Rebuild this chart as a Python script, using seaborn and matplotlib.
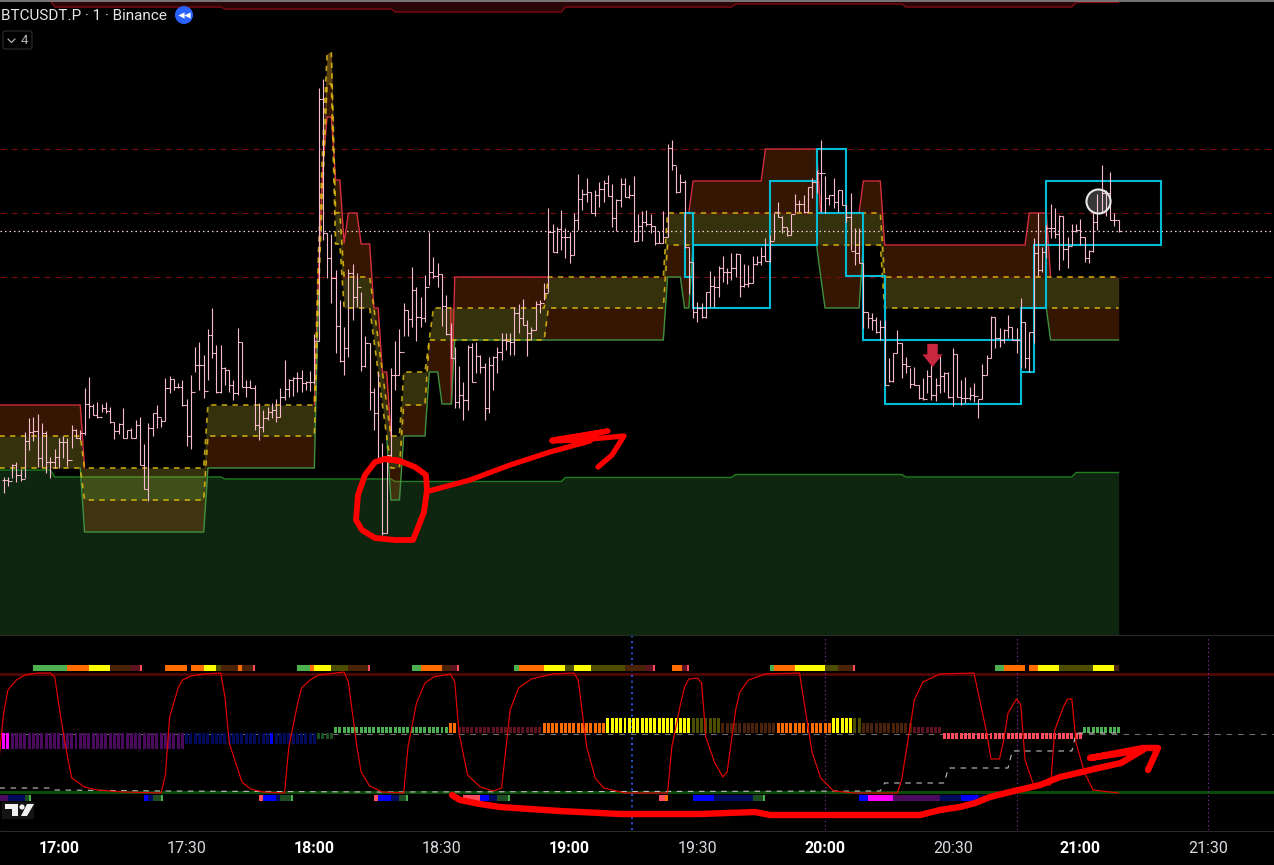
import numpy as np
import pandas as pd
import matplotlib
matplotlib.use('Agg')
import matplotlib.pyplot as plt
import seaborn as sns
from matplotlib.patches import Rectangle, FancyBboxPatch, Polygon, Circle

# =-=-=-=-=-=-=-=-=-=-=-=-=-=-=-=-=-=-=-=-=-=-=-=-=-=-=-=-=-
# Bars: one per minute, minutes counted from 17:00, first bar at -13
# Price scale has no labels in the picture so values are chart heights
#
bar_high = [477,477,464,462,469,432,418,417,414,423,431,457,449,438,436,438,425,429,430,388,377,404,402,404,402,407,422,423,408,430,428,420,417,444,423,413,405,418,378,376,379,383,380,399,375,
            347,342,355,329,308,345,345,367,370,380,328,342,380,380,385,403,410,407,403,399,388,360,379,377,372,
            370,381,371,334,88,79,233,234,270,300,327,269,264,273,292,336,343,388,372,443,455,368,
            341,329,303,310,267,287,297,275,232,257,263,274,295,323,347,366,382,345,343,342,355,363,357,356,347,333,333,333,307,304,
            299,320,327,301,300,283,208,224,227,210,228,232,213,174,189,178,192,190,182,180,175,184,199,178,178,185,176,214,211,210,
            214,226,231,211,144,140,166,174,180,247,262,302,303,292,
            271,276,266,256,268,253,253,254,264,265,256,256,247,238,235,213,202,216,227,214,
            194,200,195,187,178,170,140,176,195,178,190,190,205,193,228,228,263,312,313,317,
            320,320,358,353,330,343,357,368,367,385,378,370,365,378,356,372,372,348,354,380,
            377,387,383,399,364,355,316,317,328,329,315,327,328,298,322,332,238,213,247,225,
            204,208,215,216,237,224,224,219,237,250,213,194,165,190,172,213,220]
bar_low = [493,486,478,482,481,478,450,441,467,467,473,478,468,468,458,466,448,438,440,435,418,415,418,412,413,423,439,434,438,438,438,438,465,489,501,436,428,427,421,393,390,388,406,446,449,
           372,390,398,380,358,393,393,385,392,400,395,387,397,388,430,440,432,420,418,422,417,400,397,396,392,
           392,390,391,384,341,240,278,303,353,362,375,357,320,307,371,367,410,430,462,535,533,457,
           390,375,336,336,327,341,327,322,285,278,287,326,335,358,408,408,420,410,382,373,373,420,413,390,373,360,350,355,355,333,
           325,356,340,330,313,300,292,252,253,250,258,263,255,230,210,202,213,216,207,202,196,227,231,207,197,198,242,241,241,226,
           233,245,243,243,237,170,193,192,248,294,318,322,318,318,
           307,307,297,282,284,280,277,297,287,287,283,265,265,261,262,240,217,233,236,235,
           213,212,213,212,198,193,212,213,205,208,212,205,222,250,265,263,328,328,330,333,
           340,385,382,382,353,378,373,388,385,399,400,393,400,401,393,392,398,406,397,405,
           403,400,402,418,399,375,358,348,347,343,338,340,353,368,368,372,343,276,272,258,
           238,238,270,260,268,245,232,245,262,263,252,230,213,216,220,226,232]
bar_close = [480,481,465,475,479,441,432,431,458,433,462,462,457,442,442,460,430,438,433,404,406,415,417,408,411,422,431,424,438,430,438,425,465,489,428,413,417,421,388,379,387,387,405,436,392,
             365,365,391,335,353,392,368,370,385,393,342,387,387,388,425,427,418,412,410,417,397,389,380,378,378,
             383,382,382,341,99,233,258,278,326,361,348,273,297,287,366,343,392,413,462,533,455,375,
             375,352,310,319,290,317,318,287,272,276,274,306,334,358,402,395,400,347,382,356,367,408,365,357,352,340,341,342,313,318,
             325,333,330,304,303,293,232,252,229,237,237,255,220,199,194,192,213,195,189,183,196,218,200,184,197,195,241,226,222,224,
             226,243,243,237,148,165,192,182,247,262,312,308,317,292,
             286,287,268,272,272,268,254,286,284,283,264,262,256,261,241,212,217,227,235,214,
             204,204,212,187,182,173,173,198,195,202,190,205,217,251,253,263,312,318,320,332,
             327,385,381,353,343,364,366,384,385,398,399,376,395,385,376,373,397,354,397,398,
             398,395,396,399,375,358,317,338,340,330,327,340,340,322,358,332,253,270,252,228,
             228,234,216,249,246,231,230,237,258,251,222,213,193,193,220,220,231]

# Zone bands
band_t = [-14,5,6,34,35,60,61,62,63,64,65,66,67,68,70,71,73,74,75,76,77,78,80,81,86,87,88,89,90,92,92.2,93,114,115,142,143,146,147,148,149,165,166,178,179,180,188,189,193,194,227,228,232,233,249]
band_upper = [405,405,468,468,405,405,270,165,117,117,180,180,243,213,213,244,244,308,308,372,372,436,436,372,372,340,308,308,308,308,404,277,277,277,277,213,213,213,213,181,181,149,149,213,213,213,181,181,245,245,213,213,277,277]
band_mid1 = [436,436,468,468,405,405,250,145,53,53,213,213,277,277,277,277,277,308,340,372,405,436,436,372,372,340,308,308,308,308,308,308,308,277,277,213,213,213,213,213,213,213,213,213,213,213,213,213,277,277,277,277,277,277]
band_mid2 = [468,468,500,500,436,436,290,185,84,84,244,244,308,308,308,308,308,340,372,405,436,468,468,405,405,340,340,340,340,340,340,340,340,308,308,245,245,245,245,245,245,245,245,245,245,245,245,245,308,308,308,308,308,308]
band_lower = [468,468,532,532,468,468,290,185,84,84,244,244,308,308,308,308,308,340,372,405,436,500,500,436,436,372,372,372,404,404,404,340,340,340,340,277,277,308,308,245,245,245,245,277,308,308,245,245,308,308,308,308,340,340]

# Outer channel
outer_t = [-2,-1,38,39,78,79,118,119,158,159,198,199,238,239,249]
outer_top = [1,7,7,9,9,12,12,7,7,4,4,7,7,2.5,2.5]
floor_t = [-14,-2,-1,38,39,78,79,118,119,158,159,198,199,238,239,249]
floor_line = [470,470,477,477,479,479,481.5,481.5,477.5,477.5,474.5,474.5,477,477,472.5,472.5]

level_values = [149,213,277]
last_price = 231

# Order block boxes
box_left = [147,149,167,178,185,189,194,226,229,232]
box_right = [149,167,178,185,189,194,226,229,232,259]
box_top = [213,245,181,149,213,276,340,308,245,181]
box_bottom = [277,308,245,213,276,340,404,372,308,245]

# Lower pane: oscillator
osc_t = [-14,-13,-12,-10,-8,-5,-2,-1,0.5,2,3,6,9,15,24,25,26,28,29,31,34,38,39,40,43,45,48,53,54,56,57,59,61,67,68,70,71,73,76,81,82,84,86,88,92,93,94,96,99,102,104,106,108,111,116,121,122,124,126,128,133,137,143,144,146,147,148,150,151,152,154,156,157,159,160,162,166,174,175,177,179,182,187,197,198,201,203,207,215,216,218,219,221,222,223,225,226,227,229,233,234,236,237,238,239,241,243,249]
osc_y = [755,713,690,680,675,673,673,677,720,757,778,787,790,792,793,775,717,688,680,676,674,673,697,743,782,789,792,793,747,705,688,680,675,672,682,747,772,786,792,793,747,703,683,677,674,682,733,775,787,791,788,710,688,679,674,673,680,747,778,788,793,793,793,747,705,687,679,678,683,737,762,777,772,710,692,680,674,673,700,753,778,791,793,793,780,700,682,674,673,693,733,759,759,740,713,699,705,760,785,785,730,707,699,699,743,773,790,793]

signal_t = [-14,-2,-1,12,24,75,193,194,208,209,223,224,238,239,249]
signal_y = [788,788,790,790.5,791,792,791,783,783,768,768,751,751,733,733]

PUR, NAV, BLU, DGR, GRN = '#4a0a5e', '#000a5c', '#0000ff', '#1e4d22', '#4caf50'
ORG, YEL, OLV, BRN, DRD, LRD, MAG = '#ff6d00', '#ffff00', '#4d4d00', '#4a2208', '#5d1420', '#ff4d5e', '#ff00ff'

# Histogram runs
hist_first = [-13,-11,30,50,51,61,65,92,94,114,129,149,156,169,182,187,189,201,208,241]
hist_last = [-12,29,49,50,60,64,91,93,113,128,148,155,168,181,186,188,200,207,240,249]
hist_value = [16,16,11,11,11,6,-6,-10,-6,-10,-15,-15,-10,-10,-15,-15,-10,-6,6,-6]
hist_color = [MAG,PUR,NAV,BLU,NAV,DGR,GRN,ORG,DRD,ORG,YEL,OLV,BRN,ORG,YEL,OLV,BRN,DRD,LRD,GRN]

# State stripes
top_start = [-6,2,7,12,17,19,25,31,34,37,38,42,43,45.5,56,59,60,64,68,72.5,83,85,90,92,93.5,107,108,114,119,121,125,133,138,139.5,144,146.5,147.5,167,168,173,180,183,186.5,220,222,228,230,235,243,248]
top_end = [2,7,12,17,19,19.5,30,34,37,38,42,43,45.5,46,59,60,64,68,72.5,73,85,90,92,93.5,94,108,114,119,121,125,133,138,139.5,140,146.5,147.5,148,168,173,180,183,186.5,187,222,227,230,235,243,248,249]
top_color = [GRN,ORG,YEL,BRN,DRD,LRD,ORG,ORG,YEL,OLV,BRN,ORG,BRN,LRD,GRN,ORG,YEL,OLV,BRN,LRD,GRN,ORG,BRN,DRD,LRD,GRN,ORG,YEL,OLV,YEL,OLV,BRN,DRD,LRD,ORG,DRD,LRD,GRN,ORG,YEL,OLV,BRN,LRD,GRN,ORG,ORG,YEL,OLV,YEL,BRN]
low_start = [-14,-12,-8,-7,20,21,22,24,47,48,51,52,54.5,74,75,78,80,81.5,95,99,101,103,105.5,141,142.5,149,154,163,165.5,188,190,196,207,212,216]
low_end = [-12,-8,-7,-6.5,21,22,24,24.5,48,51,52,54.5,55,75,78,80,81.5,82,99,101,103,105.5,106,142.5,143,154,163,165.5,166,190,196,207,212,216,219]
low_color = [PUR,NAV,DGR,GRN,BLU,NAV,DGR,GRN,LRD,BLU,NAV,DGR,GRN,LRD,BLU,NAV,DGR,GRN,LRD,BLU,NAV,DGR,GRN,LRD,ORG,BLU,NAV,DGR,GRN,BLU,MAG,PUR,NAV,BLU,NAV]

session_lines = [180,225,270]
cursor_line = 134.6

tick_minutes = [0,30,60,90,120,150,180,210,240,270]
tick_labels = ['17:00','17:30','18:00','18:30','19:00','19:30','20:00','20:30','21:00','21:30']

# Hand drawn red marks, picture positions
loop_x = [400,385,375,365,358,356,362,375,395,413,417,424,427,426,415,400,385]
loop_y = [461,459,462,475,495,520,530,538,540,540,530,512,490,475,467,461,459]
arrow1_x = [429,470,510,550,590,552,608,552,580,624,612,598]
arrow1_y = [491,480,465,452,441,440,431,441,440,436,455,467]
arrow2_x = [452,460,480,500,560,620,700,755,770,850,920,940,960,975,990,1010,1040,1060,1082,1094,1121,1143,1090,1143,1158,1148]
arrow2_y = [795,800,804,807,811,814,814,812,815,815,815,810,807,803,797,792,785,777,772,769,763,750,758,748,748,770]

W, H = 1274, 865
MIN_LEFT, MIN_RIGHT = -13.86, 285.5
ORANGE_FILL, YELLOW_FILL = '#ff6a10', '#ffec3c'

sns.set_theme(style='dark', rc={'axes.facecolor': 'black', 'figure.facecolor': 'black'})
plt.rcParams['font.family'] = ['Roboto', 'DejaVu Sans']

fig = plt.figure(figsize=(W / 100, H / 100), dpi=100, facecolor='black')
ax = fig.add_axes([0, (H - 635) / H, 1, 635 / H])
pane = fig.add_axes([0, (H - 830) / H, 1, (830 - 636) / H])
top = fig.add_axes([0, 0, 1, 1], facecolor='none')


def hide_flat(line, ref):
    # the line is not drawn where it sits on the neighbour series
    line = np.array(line, dtype=float)
    ref = np.array(ref, dtype=float)
    same = line == ref
    keep = ~same | np.r_[False, ~same[:-1]] | np.r_[~same[1:], False]
    line[~keep] = np.nan
    return line


# =-=-=-=-=-=-=-=-=-=-=-=-=-=-=-=-=-=-=-=-=-=-=-=-=-=-=-=-=-
# Main pane
#
ax.set_xlim(MIN_LEFT, MIN_RIGHT)
ax.set_ylim(635, 0)
ax.axis('off')

ax.fill_between(floor_t, floor_line, 635, color='#0e2610', lw=0, zorder=1)
sns.lineplot(x=floor_t, y=floor_line, ax=ax, color='#1f7f1f', lw=1, estimator=None, sort=False, legend=False, zorder=1.5)
ax.fill_between(outer_t, 0, outer_top, color='#2a0608', lw=0, zorder=1)
sns.lineplot(x=outer_t, y=outer_top, ax=ax, color='#7d0a10', lw=1, estimator=None, sort=False, legend=False, zorder=1.5)

ax.fill_between(band_t, band_upper, band_mid1, color=ORANGE_FILL, alpha=0.21, lw=0, zorder=2)
ax.fill_between(band_t, band_mid1, band_mid2, color=YELLOW_FILL, alpha=0.21, lw=0, zorder=2)
ax.fill_between(band_t, band_mid2, band_lower, color=ORANGE_FILL, alpha=0.21, lw=0, zorder=2)

for level in level_values:
    ax.axhline(level, color='#7a0c0c', lw=0.8, ls=(0, (5.4, 4.5)), zorder=2.2)
ax.axhline(last_price, color='#f8d0dc', lw=0.9, ls=(0, (1.2, 2.4)), zorder=2.3)

ax.plot(band_t, hide_flat(band_upper, band_mid1), color='#d32f3f', lw=1, zorder=3)
ax.plot(band_t, hide_flat(band_lower, band_mid2), color='#3d9140', lw=1, zorder=3)
ax.plot(band_t, band_mid1, color='#e0bc10', lw=1.2, ls=(0, (3.2, 3.2)), alpha=0.85, zorder=3.5)
ax.plot(band_t, band_mid2, color='#e0bc10', lw=1.2, ls=(0, (3.2, 3.2)), alpha=0.85, zorder=3.5)

for left, right, y_top, y_bottom in zip(box_left, box_right, box_top, box_bottom):
    ax.add_patch(Rectangle((left, y_top), right - left, y_bottom - y_top, fill=False,
                           ec='#00bcd4', lw=1.5, zorder=4))

bars = pd.DataFrame({'high': bar_high, 'low': bar_low, 'close': bar_close})
bars['minute'] = np.arange(-13, -13 + len(bars))
bars['open'] = bars['close'].shift(1).fillna(bars['close'])
ax.vlines(bars['minute'], bars['high'], bars['low'], color='#f8bbd0', lw=0.8, zorder=5)
ax.hlines(bars['open'], bars['minute'] - 0.5, bars['minute'], color='#f8bbd0', lw=0.8, zorder=5)
ax.hlines(bars['close'], bars['minute'], bars['minute'] + 0.5, color='#f8bbd0', lw=0.8, zorder=5)

arrow_shape = [(-0.45, 1), (0.45, 1), (0.45, 0.1), (0.87, 0.1), (0, -1), (-0.87, 0.1), (-0.45, 0.1)]
ax.scatter([205.1], [355], marker=arrow_shape, s=280, color='#c8283f', lw=0, zorder=6)
ax.scatter([244.1], [201], s=300, facecolor=(1, 1, 1, 0.22), edgecolor='#e8e8e8', lw=1.5, zorder=6)

# =-=-=-=-=-=-=-=-=-=-=-=-=-=-=-=-=-=-=-=-=-=-=-=-=-=-=-=-=-
# Lower pane
#
pane.set_xlim(MIN_LEFT, MIN_RIGHT)
pane.set_ylim(830, 636)
pane.set_yticks([])
for side in pane.spines.values():
    side.set_visible(False)
pane.set_xticks(tick_minutes)
pane.set_xticklabels(tick_labels)
pane.tick_params(axis='x', length=0, pad=8, labelsize=11.5)
for label, minute in zip(pane.get_xticklabels(), tick_minutes):
    if minute % 60 == 0:
        label.set_fontweight('bold')
        label.set_color('#ffffff')
    else:
        label.set_color('#d8dae0')

pane.axhline(674, color='#4d0505', lw=2.2, zorder=1)
pane.axhline(792, color='#0a4b0a', lw=2.2, zorder=1)
pane.axhline(733.5, color='#707070', lw=0.75, ls=(0, (5.5, 5.5)), zorder=1)
for minute in session_lines:
    pane.axvline(minute, color='#8e24aa', lw=0.8, ls=(0, (1.2, 2.6)), zorder=1)
pane.axvline(cursor_line, color='#2962ff', lw=1.2, ls=(0, (1.2, 2.2)), zorder=1)

for first, last, value, colour in zip(hist_first, hist_last, hist_value, hist_color):
    pane.bar(np.arange(first, last + 1), value, bottom=733, width=0.7, color=colour, lw=0, zorder=2)
pane.bar(top_start, 6, width=np.array(top_end) - np.array(top_start), bottom=665, align='edge',
         color=top_color, lw=0, zorder=2)
pane.bar(low_start, 6, width=np.array(low_end) - np.array(low_start), bottom=795, align='edge',
         color=low_color, lw=0, zorder=2)

sns.lineplot(x=signal_t, y=signal_y, ax=pane, color='#c0c0c0', lw=0.8, ls=(0, (5, 5)),
             estimator=None, sort=False, legend=False, zorder=3)
sns.lineplot(x=osc_t, y=osc_y, ax=pane, color='#e60000', lw=0.85,
             estimator=None, sort=False, legend=False, zorder=4)
pane.set_xlabel('')
pane.set_ylabel('')

# =-=-=-=-=-=-=-=-=-=-=-=-=-=-=-=-=-=-=-=-=-=-=-=-=-=-=-=-=-
# Chart furniture and the red scribbles
#
top.set_xlim(0, W)
top.set_ylim(H, 0)
top.axis('off')
top.axhline(0.7, color='#8a8a8a', lw=1.2)
top.axhline(635, color='#2a2a2a', lw=0.8)
top.axhline(830.5, color='#2a2a2a', lw=0.8)

top.text(1, 15.5, 'BTCUSDT.P · 1 · Binance', color='#e6e6e6', fontsize=11, va='center', ha='left')
top.add_patch(Circle((184, 15), 9, color='#2962ff', lw=0))
top.scatter([181, 186.5], [15, 15], marker='<', s=20, color='white', lw=0)
top.add_patch(FancyBboxPatch((3, 31), 29, 18, boxstyle='round,pad=0,rounding_size=2.5',
                             fc='black', ec='#2e2e2e', lw=0.8))
top.plot([8, 11.5, 15], [39, 42.5, 39], color='#b2b5be', lw=0.9)
top.text(24, 41, '4', color='#b2b5be', fontsize=9.5, va='center', ha='center')

top.add_patch(Rectangle((2, 802), 32, 17, color='#141414', lw=0))
top.add_patch(Polygon([(5, 804), (18, 804), (18, 816), (12, 816), (12, 809), (5, 809)], color='#f2f2f2', lw=0))
top.add_patch(Circle((22, 807), 2.6, color='#f2f2f2', lw=0))
top.add_patch(Polygon([(27, 804), (34, 804), (27, 816), (21, 816)], color='#f2f2f2', lw=0))

for xs, ys, width in [(loop_x, loop_y, 4.2), (arrow1_x, arrow1_y, 3.8), (arrow2_x, arrow2_y, 4.6)]:
    top.plot(xs, ys, color='#ff0000', lw=width, solid_capstyle='round', solid_joinstyle='round')

plt.savefig('out.png', dpi=100, facecolor='black')
